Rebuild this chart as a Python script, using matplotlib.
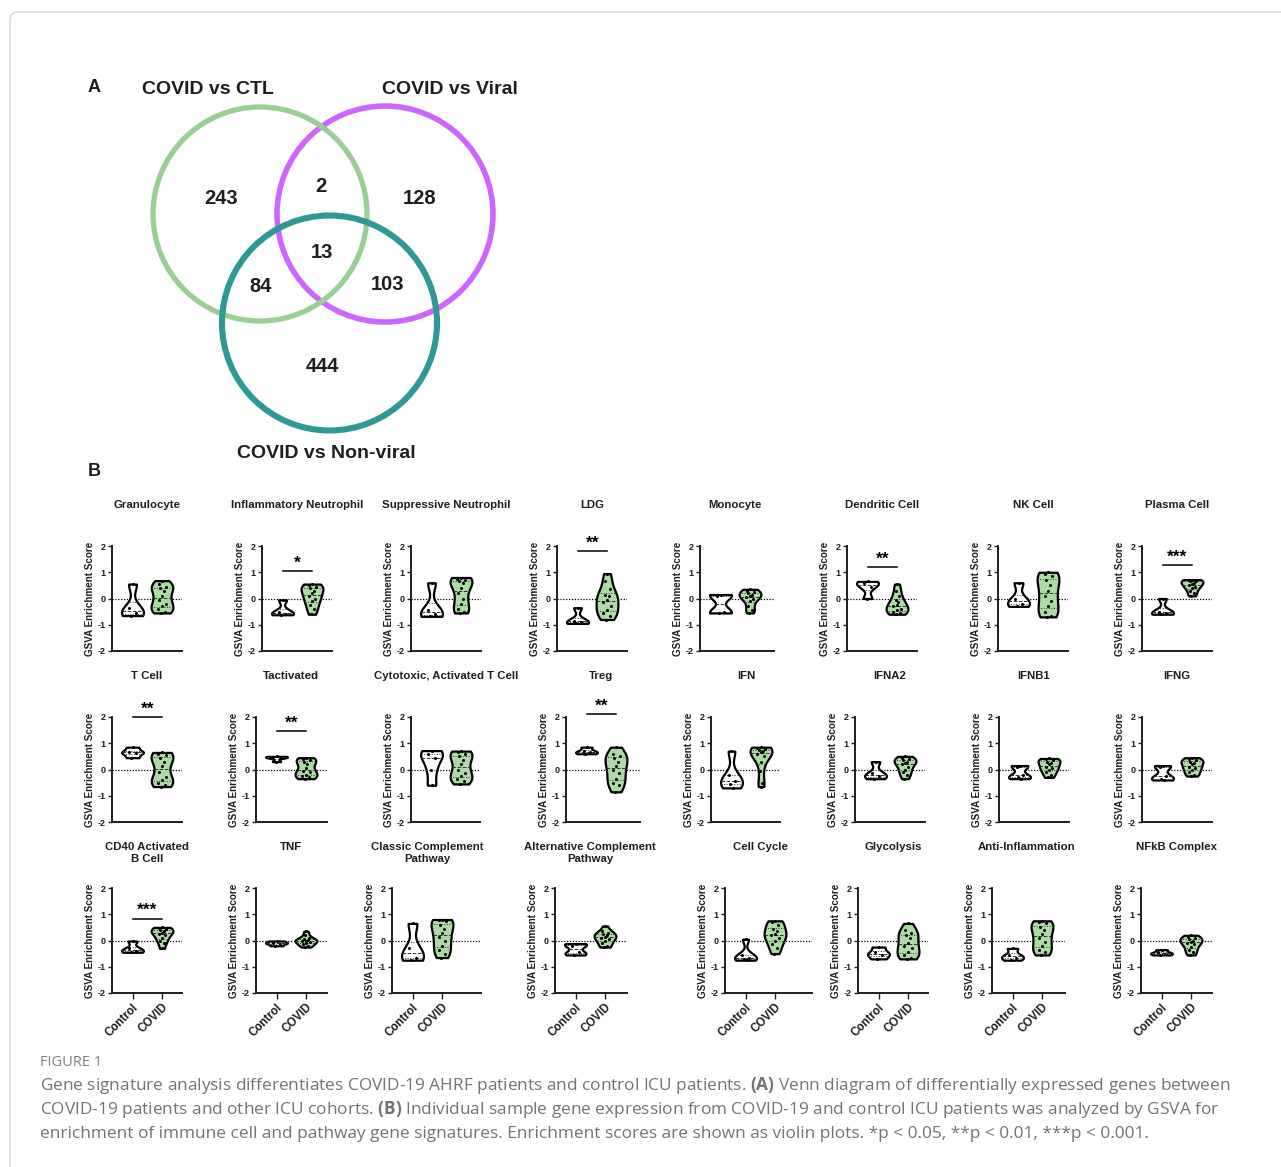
import numpy as np
import matplotlib
matplotlib.use("Agg")
import matplotlib.pyplot as plt
from matplotlib.patches import Circle, FancyBboxPatch

plt.rcParams["font.family"] = ["Liberation Sans", "DejaVu Sans"]
plt.rcParams["mathtext.fontset"] = "custom"
plt.rcParams["mathtext.rm"] = "Open Sans"
plt.rcParams["mathtext.bf"] = "Open Sans:bold"

W, H = 1281, 1167

# ---------------- Panel A: Venn diagram of DE genes ----------------
venn_sets = ["COVID vs CTL", "COVID vs Viral", "COVID vs Non-viral"]
venn_regions = ["CTL only", "CTL & Viral", "Viral only", "all three",
                "CTL & Non-viral", "Viral & Non-viral", "Non-viral only"]
venn_counts = [243, 2, 128, 13, 84, 103, 444]

# ---------------- Panel B: GSVA enrichment scores ----------------
groups = ["Control", "COVID"]
titles = ["Granulocyte", "Inflammatory Neutrophil", "Suppressive Neutrophil", "LDG",
          "Monocyte", "Dendritic Cell", "NK Cell", "Plasma Cell",
          "T Cell", "Tactivated", "Cytotoxic, Activated T Cell", "Treg",
          "IFN", "IFNA2", "IFNB1", "IFNG",
          "CD40 Activated\nB Cell", "TNF", "Classic Complement\nPathway",
          "Alternative Complement\nPathway", "Cell Cycle", "Glycolysis",
          "Anti-Inflammation", "NFkB Complex"]
significance = ["", "*", "", "**", "", "**", "", "***",
                "**", "**", "", "**", "", "", "", "",
                "***", "", "", "", "", "", "", ""]
sig_bar_y = [0, 1.05, 0, 1.8, 0, 1.2, 0, 1.28,
             2.0, 1.47, 0, 2.1, 0, 0, 0, 0,
             0.83, 0, 0, 0, 0, 0, 0, 0]

control_scores = [
    [0.55, -0.38, -0.55, -0.65],
    [-0.05, -0.5, -0.58, -0.62],
    [0.6, -0.45, -0.6, -0.68],
    [-0.35, -0.85, -0.9, -0.95],
    [0.15, 0.1, -0.5, -0.55],
    [0.65, 0.6, 0.45, 0.0],
    [0.6, 0.0, -0.2, -0.3],
    [0.0, -0.5, -0.55, -0.6],
    [0.85, 0.68, 0.62, 0.45],
    [0.5, 0.48, 0.45, 0.3],
    [0.72, 0.6, 0.45, 0.0, -0.6],
    [0.85, 0.72, 0.65, 0.6],
    [0.7, -0.2, -0.45, -0.55, -0.7],
    [0.3, -0.15, -0.25, -0.35],
    [0.15, 0.1, -0.2, -0.3, -0.35],
    [0.15, 0.1, -0.25, -0.35, -0.4],
    [-0.02, -0.3, -0.4, -0.45],
    [-0.02, -0.08, -0.12, -0.2],
    [0.65, -0.3, -0.65, -0.75],
    [-0.12, -0.2, -0.45, -0.55],
    [0.05, -0.55, -0.65, -0.7, -0.75],
    [-0.25, -0.45, -0.55, -0.7],
    [-0.3, -0.55, -0.65, -0.75],
    [-0.35, -0.45, -0.5, -0.55],
]
covid_scores = [
    [0.68, 0.55, 0.45, 0.4, 0.3, 0.1, -0.05, -0.2, -0.3, -0.4, -0.5, -0.55],
    [0.55, 0.5, 0.45, 0.4, 0.3, 0.2, 0.1, 0.0, -0.1, -0.25, -0.4, -0.6],
    [0.8, 0.75, 0.7, 0.65, 0.6, 0.4, 0.2, 0.0, -0.2, -0.4, -0.5, -0.55],
    [0.95, 0.65, 0.35, 0.15, 0.1, -0.05, -0.15, -0.3, -0.45, -0.55, -0.65, -0.8],
    [0.35, 0.3, 0.25, 0.2, 0.15, 0.1, 0.05, 0.0, -0.1, -0.3, -0.45, -0.55],
    [0.55, 0.3, 0.1, -0.05, -0.15, -0.25, -0.3, -0.4, -0.45, -0.5, -0.55, -0.6],
    [1.0, 0.95, 0.85, 0.7, 0.5, 0.3, 0.1, -0.1, -0.3, -0.5, -0.65, -0.7],
    [0.72, 0.7, 0.68, 0.65, 0.6, 0.55, 0.5, 0.45, 0.4, 0.3, 0.2, 0.1],
    [0.65, 0.6, 0.55, 0.45, 0.3, 0.15, -0.1, -0.3, -0.4, -0.5, -0.6, -0.65],
    [0.45, 0.4, 0.35, 0.3, 0.2, 0.05, -0.05, -0.1, -0.2, -0.25, -0.3, -0.35],
    [0.7, 0.68, 0.6, 0.5, 0.35, 0.2, 0.0, -0.15, -0.25, -0.35, -0.45, -0.55],
    [0.85, 0.6, 0.5, 0.45, 0.3, 0.15, 0.0, -0.15, -0.35, -0.5, -0.6, -0.85],
    [0.85, 0.82, 0.78, 0.75, 0.7, 0.65, 0.6, 0.5, 0.3, -0.05, -0.5, -0.65],
    [0.5, 0.45, 0.4, 0.35, 0.3, 0.25, 0.2, 0.1, 0.0, -0.1, -0.2, -0.35],
    [0.42, 0.4, 0.38, 0.3, 0.25, 0.2, 0.1, 0.05, 0.0, -0.1, -0.2, -0.3],
    [0.45, 0.4, 0.35, 0.3, 0.25, 0.2, 0.1, 0.05, 0.0, -0.1, -0.2, -0.25],
    [0.5, 0.48, 0.45, 0.4, 0.35, 0.3, 0.25, 0.2, 0.1, 0.0, -0.1, -0.3],
    [0.35, 0.2, 0.1, 0.05, 0.02, 0.0, -0.02, -0.05, -0.1, -0.15, -0.2, -0.25],
    [0.8, 0.78, 0.75, 0.6, 0.45, 0.3, 0.15, 0.0, -0.2, -0.35, -0.5, -0.65],
    [0.55, 0.35, 0.3, 0.25, 0.2, 0.15, 0.1, 0.05, 0.0, -0.1, -0.2, -0.25],
    [0.75, 0.7, 0.6, 0.45, 0.35, 0.25, 0.2, 0.1, 0.0, -0.15, -0.3, -0.5],
    [0.65, 0.4, 0.3, 0.2, 0.1, -0.1, -0.2, -0.3, -0.45, -0.55, -0.65, -0.7],
    [0.75, 0.7, 0.65, 0.5, 0.4, 0.25, 0.1, -0.05, -0.2, -0.35, -0.45, -0.55],
    [0.2, 0.15, 0.1, 0.05, 0.0, -0.05, -0.1, -0.15, -0.25, -0.35, -0.45, -0.55],
]

y_ticks = [-2, -1, 0, 1, 2]
y_ticklabels = ["-2", "-1", "0", "1", "2"]

GREEN_FILL = "#addba6"
INK = "#1e1e1e"

fig = plt.figure(figsize=(W / 100, H / 100), dpi=100)

# Full-figure canvas in pixel units for the Venn diagram, frame and caption
bg = fig.add_axes([0, 0, 1, 1])
bg.set_xlim(0, W)
bg.set_ylim(H, 0)
bg.axis("off")

bg.add_patch(FancyBboxPatch((10, 12), W + 40, H + 40,
                            boxstyle="round,pad=0,rounding_size=8",
                            ec="#d6d6d6", fc="none", lw=1.0))

# Venn circles: (center x, center y, radius, colour, line width)
circles = [(385, 214, 108, "#cc66ff", 4.0),
           (260, 214, 107, "#99cf94", 3.8),
           (329.5, 323, 107.5, "#2f9894", 4.4)]
for cx, cy, r, col, lw in circles:
    bg.add_patch(Circle((cx, cy), r, fill=False, ec=col, lw=lw))

set_label_pos = [(208, 90), (450, 90), (326, 453)]
for name, (x, y) in zip(venn_sets, set_label_pos):
    bg.text(x, y, name, ha="center", va="center", fontsize=14,
            fontweight="bold", color=INK)

count_pos = [(221, 198), (321, 187), (420, 198), (322, 253),
             (261, 287), (387, 285), (322, 366)]
for n, (x, y) in zip(venn_counts, count_pos):
    bg.text(x, y, str(n), ha="center", va="center", fontsize=14.5,
            fontweight="bold", color=INK)

bg.text(94, 88, "A", ha="center", va="center", fontsize=13, fontweight="bold", color=INK)
bg.text(94, 471, "B", ha="center", va="center", fontsize=13, fontweight="bold", color=INK)


def half_width(body, pos, y):
    v = body.get_paths()[0].vertices
    right = v[v[:, 0] > pos + 1e-9]
    if len(right) < 2:
        return 0.0
    order = np.argsort(right[:, 1])
    return np.interp(y, right[order, 1], right[order, 0]) - pos


# Panel grid (pixels): y-axis x position and axis length for each row
AX_H = 105
row_top = [546, 717, 888]
axis_x = [[112, 262, 411, 557, 700, 847, 998, 1142],
          [112, 256, 411, 566, 711, 855, 999, 1142],
          [112, 256, 392, 555, 725, 858, 992, 1141]]
axis_w = [[70, 70, 70, 70, 74, 70, 70, 70],
          [70, 71, 69, 74, 69, 70, 70, 70],
          [70, 71, 89, 72, 87, 70, 73, 71]]
PX_PER_UNIT = 29.5     # horizontal spacing between the two groups
FIRST_OFFSET = 20.5    # distance from the y-axis to the first group

dot_pattern = [0.0, -0.45, 0.45, -0.2, 0.2, 0.0, -0.45, 0.45]

for i, title in enumerate(titles):
    row, col = divmod(i, 8)
    x0 = axis_x[row][col]
    aw = axis_w[row][col]
    y0 = row_top[row]
    ax = fig.add_axes([x0 / W, 1 - (y0 + AX_H) / H, aw / W, AX_H / H])
    ax.set_facecolor("none")
    data = [np.array(control_scores[i]), np.array(covid_scores[i])]
    parts = ax.violinplot(data, positions=[0, 1], widths=0.74,
                          showextrema=False, bw_method=0.5)
    for k, (body, fc) in enumerate(zip(parts["bodies"], ["white", GREEN_FILL])):
        body.set_facecolor(fc)
        body.set_edgecolor("black")
        body.set_linewidth(1.6)
        body.set_alpha(1)
        body.set_zorder(2)
        d = data[k]
        q1, med, q3 = np.percentile(d, [25, 50, 75])
        for q, ls in [(q1, ":"), (med, "--"), (q3, ":")]:
            hw = half_width(body, k, q)
            ax.plot([k - hw, k + hw], [q, q], ls=ls, lw=0.7,
                    color="#333333", zorder=3)
        for j, val in enumerate(d):
            hw = half_width(body, k, val)
            ax.plot(k + dot_pattern[j % len(dot_pattern)] * hw * 0.8, val, "o",
                    ms=2.2, color="black", mec="none", zorder=4)

    ax.axhline(0, ls=(0, (1, 1.3)), lw=0.9, color="black", zorder=1)
    ax.set_ylim(-2, 2)
    ax.set_xlim(-FIRST_OFFSET / PX_PER_UNIT, (aw - FIRST_OFFSET) / PX_PER_UNIT)
    for s in ["top", "right"]:
        ax.spines[s].set_visible(False)
    for s in ["left", "bottom"]:
        ax.spines[s].set_linewidth(1.4)
        ax.spines[s].set_color(INK)
    ax.set_yticks(y_ticks)
    ax.set_yticklabels(y_ticklabels, fontsize=6.5, fontweight="bold")
    ax.tick_params(axis="y", length=3, width=1, pad=1.5, colors=INK)
    ax.set_ylabel("GSVA Enrichment Score", fontsize=7.1, fontweight="bold",
                  labelpad=2, color=INK)
    if row == 2:
        ax.set_xticks([0, 1])
        ax.set_xticklabels(groups, rotation=45, ha="right",
                           rotation_mode="anchor", fontsize=8.3, fontweight="bold")
        ax.tick_params(axis="x", length=4, width=1, pad=2, colors=INK)
    else:
        ax.set_xticks([])

    if significance[i]:
        by = sig_bar_y[i]
        ax.plot([0, 1], [by, by], color="black", lw=1.1, clip_on=False)
        ax.text(0.5, by + 0.02, significance[i], ha="center", va="bottom",
                fontsize=12.5, fontweight="bold", clip_on=False)

    fig.text((x0 + 35) / W, 1 - (y0 - 46) / H, title, ha="center",
             va="top", fontsize=8.2, fontweight="bold", linespacing=1.25,
             color=INK)

# Caption
CAP = "#737373"
bg.text(40, 1062, "FIGURE 1", ha="left", va="center", fontsize=10.5,
        family="Open Sans", color="#808080")
caption = [
    r"Gene signature analysis differentiates COVID-19 AHRF patients and control ICU patients. $\mathbf{(A)}$ Venn diagram of differentially expressed genes between",
    r"COVID-19 patients and other ICU cohorts. $\mathbf{(B)}$ Individual sample gene expression from COVID-19 and control ICU patients was analyzed by GSVA for",
    "enrichment of immune cell and pathway gene signatures. Enrichment scores are shown as violin plots. *p < 0.05, **p < 0.01, ***p < 0.001.",
]
for k, line in enumerate(caption):
    bg.text(40, 1086 + 24 * k, line, ha="left", va="center", fontsize=12.4,
            family="Open Sans", color=CAP)

fig.savefig("out.png", dpi=100)
